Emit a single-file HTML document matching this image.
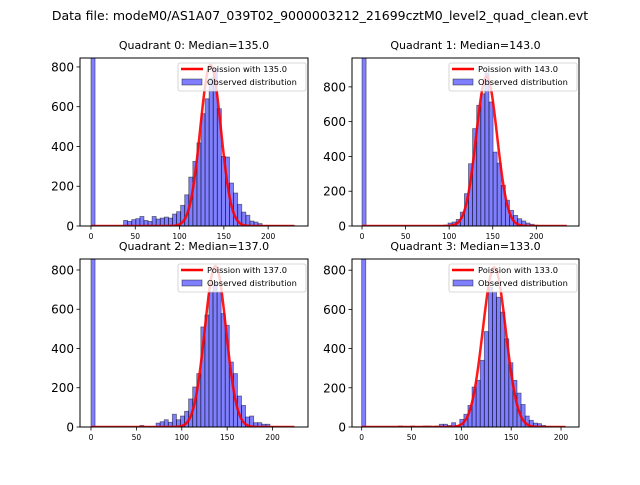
<!DOCTYPE html>
<html><head><meta charset="utf-8"><style>
body{margin:0;background:#fff;width:640px;height:480px;overflow:hidden}
svg{font-family:"DejaVu Sans","Liberation Sans",sans-serif}
</style></head><body>
<svg id="c" width="640" height="480" xmlns="http://www.w3.org/2000/svg">
<text x="320" y="20" font-size="12.5" text-anchor="middle">Data file: modeM0/AS1A07_039T02_9000003212_21699cztM0_level2_quad_clean.evt</text>
</svg>
<script>
const medians=[135,143,137,133];
const peaks=[810,860,820,815];
const binStarts=[0,0,0,0];
const binWidths=[4.6,4.7,4.48,4.1];
const zeroCounts=[2000,2000,2000,2000];
const q0Counts=[0,0,0,0,0,0,0,0,28,23,32,37,48,28,23,48,35,40,45,40,60,72,104,157,246,325,418,565,640,744,794,590,350,347,216,166,109,70,54,25,20,12,3,3,3,3,2,2,2,2];
const q1Counts=[0,0,0,0,0,0,0,0,0,0,0,0,0,0,0,0,0,0,2,3,5,17,23,38,80,186,358,560,694,760,880,713,425,362,234,148,90,61,42,29,17,10,5,3,3,2,2,2,1,1];
const q2Counts=[0,0,0,0,0,0,0,0,0,0,0,0,8,2,2,2,20,27,37,24,65,37,56,80,143,204,272,510,570,688,730,688,578,518,331,272,158,110,51,56,22,22,14,14,3,2,1,1,1,1];
const q3Counts=[0,0,0,0,0,0,0,0,0,5,2,2,5,2,2,5,5,2,5,14,14,8,22,8,39,65,110,204,238,340,487,713,688,662,586,450,328,238,173,115,56,34,20,17,8,3,2,1,1,0];
const allCounts=[q0Counts,q1Counts,q2Counts,q3Counts];
const yTicks=[0,200,400,600,800];
const xTicks=[0,50,100,150,200];
const titles=["Quadrant 0: Median=135.0","Quadrant 1: Median=143.0","Quadrant 2: Median=137.0","Quadrant 3: Median=133.0"];
const boxes=[{l:80,r:308,t:58,b:226,x0:-12.4,x1:245,y1:845},{l:352,r:579,t:58,b:226,x0:-11.5,x1:249,y1:966},{l:80,r:308,t:259,b:427,x0:-12.1,x1:239,y1:856},{l:352,r:579,t:259,b:427,x0:-9.7,x1:218,y1:857}];
const NS="http://www.w3.org/2000/svg";
const svg=document.getElementById('c');
function mk(tag,attrs,parent){const e=document.createElementNS(NS,tag);for(const k in attrs)e.setAttribute(k,attrs[k]);(parent||svg).appendChild(e);return e;}
boxes.forEach((B,q)=>{
  const g=mk('g',{});
  
  
  const sx=v=>B.l+(v-B.x0)/(B.x1-B.x0)*(B.r-B.l);
  const sy=v=>B.b-v/B.y1*(B.b-B.t);
  const cid='clip'+q;
  const cp=mk('clipPath',{id:cid},g);mk('rect',{x:B.l,y:B.t,width:B.r-B.l,height:B.b-B.t},cp);
  const plot=mk('g',{'clip-path':'url(#'+cid+')'},g);
  const counts=allCounts[q].slice();counts[0]=zeroCounts[q];
  const w=binWidths[q];
  counts.forEach((c,i)=>{
    if(c<=0)return;
    const x0=binStarts[q]+i*w;
    const r=mk('rect',{x:sx(x0),y:sy(c),width:sx(x0+w)-sx(x0),height:sy(0)-sy(c),fill:'rgba(0,0,255,0.5)',stroke:'rgba(0,0,0,0.5)','stroke-width':0.8},plot);
    
    
  });
  const m=medians[q];const xmax=binStarts[q]+counts.length*w;
  let d='';
  for(let x=0;x<=xmax;x+=0.5){const v=peaks[q]*Math.exp(-(x-m)*(x-m)/(2*m));d+=(d?'L':'M')+sx(x).toFixed(2)+','+sy(v).toFixed(2);}
  const p=mk('path',{d:d,fill:'none',stroke:'#ff0000','stroke-width':2.5,'stroke-opacity':0.9},plot);
  
  
  const fr=mk('rect',{x:B.l,y:B.t,width:B.r-B.l,height:B.b-B.t,fill:'none',stroke:'#000','stroke-width':1},g);
  
  
  yTicks.forEach(t=>{
    if(t>B.y1)return;
    mk('line',{x1:B.l-3.5,x2:B.l,y1:sy(t),y2:sy(t),stroke:'#000','stroke-width':0.8},g);
    const tx=mk('text',{x:B.l-6,y:sy(t)+4.5,'font-size':12,'text-anchor':'end'},g);tx.textContent=t;
    
    
  });
  xTicks.forEach(t=>{
    if(t>B.x1)return;
    mk('line',{x1:sx(t),x2:sx(t),y1:B.b,y2:B.b+3.5,stroke:'#000','stroke-width':0.8},g);
    const tx=mk('text',{x:sx(t),y:B.b+13,'font-size':7.5,'text-anchor':'middle'},g);tx.textContent=t;
    
    
  });
  const tt=mk('text',{x:(B.l+B.r)/2,y:B.t-9,'font-size':11,'text-anchor':'middle'},g);tt.textContent=titles[q];
  
  
  const lg=mk('g',{},g);
  
  
  const lx=B.r-130,ly=B.t+5;
  mk('rect',{x:lx,y:ly,width:128,height:28,rx:2,fill:'rgba(255,255,255,0.8)',stroke:'#ccc','stroke-width':0.8},lg);
  mk('line',{x1:lx+3,x2:lx+25,y1:ly+6,y2:ly+6,stroke:'#ff0000','stroke-width':2.5},lg);
  mk('rect',{x:lx+4,y:ly+16,width:20,height:6,fill:'rgba(0,0,255,0.5)',stroke:'rgba(0,0,0,0.5)','stroke-width':0.8},lg);
  const t1=mk('text',{x:lx+29,y:ly+9,'font-size':8.3},lg);t1.textContent='Poission with '+m.toFixed(1);
  
  
  const t2=mk('text',{x:lx+29,y:ly+22,'font-size':8.3},lg);t2.textContent='Observed distribution';
  
  
});
</script>
</body></html>
